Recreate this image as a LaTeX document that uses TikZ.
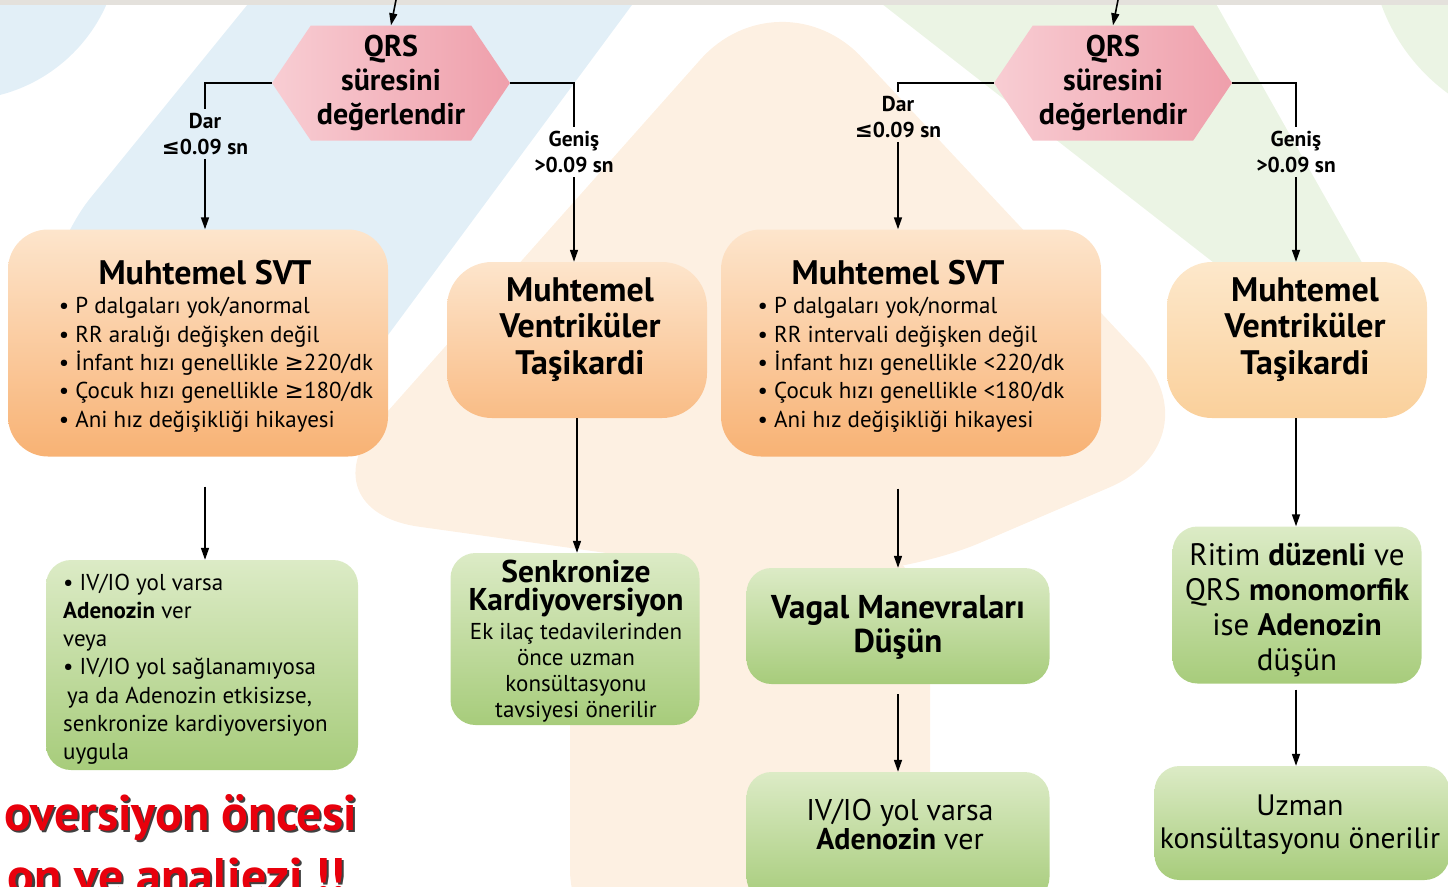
\documentclass[tikz,border=0pt]{standalone}
\usepackage{fontspec}
\setmainfont{PT Sans}
\newfontfamily\symf{DejaVu Sans}
\usetikzlibrary{positioning,shapes.symbols,arrows.meta}

\definecolor{bgblue}{HTML}{E2EFF7}
\definecolor{bgpeach}{HTML}{FDF0E2}
\definecolor{bggreen}{HTML}{EBF4E4}
\definecolor{bggray}{HTML}{E4E1DC}
\definecolor{qrsL}{HTML}{F8CDD3}
\definecolor{qrsR}{HTML}{EF9FAB}
\definecolor{svtT}{HTML}{FDE5CC}
\definecolor{svtB}{HTML}{F8B274}
\definecolor{vtT}{HTML}{FDE8CB}
\definecolor{vtB}{HTML}{FAD09B}
\definecolor{grT}{HTML}{DCEBC6}
\definecolor{grB}{HTML}{A7CC7B}
\definecolor{warnred}{HTML}{E8000C}

\newcommand\lesign{{\symf ≤}}
\newcommand\gesign{{\symf ≥}}
\newcommand\fsqrs{\fontsize{30}{34}\selectfont\bfseries}
\newcommand\fstitle{\fontsize{34}{34}\selectfont\bfseries}
\newcommand\fsbody{\fontsize{23}{28.3}\selectfont}
\newcommand\fslabel{\fontsize{21.5}{26}\selectfont\bfseries}

\tikzset{
  link/.style={line width=1.6pt},
  arr/.style={line width=1.6pt, -{Triangle[length=12pt,width=8pt]}},
  qrsbox/.style={signal, signal to=west and east, signal pointer angle=112,
    minimum width=238pt, minimum height=115pt, inner sep=0pt,
    left color=qrsL, right color=qrsR, align=center, font=\fsqrs},
  svtbox/.style={rounded corners=40pt, minimum width=380pt, minimum height=227pt,
    top color=svtT, bottom color=svtB},
  vtbox/.style={rounded corners=45pt, minimum width=260pt, minimum height=156pt,
    top color=svtT, bottom color=svtB!80!svtT},
  grbox/.style={rounded corners=25pt, top color=grT, bottom color=grB},
  txt/.style={anchor=base, inner sep=0pt},
  lbl/.style={align=center, font=\fslabel, inner sep=4pt},
  warn/.style={anchor=base east, text=warnred, font=\fontsize{50}{50}\selectfont\bfseries, inner sep=0pt}
}

\begin{document}
\begin{tikzpicture}[x=1pt,y=-1pt]
  \useasboundingbox (0,0) rectangle (1448,886);

  % Background bands
  \fill[bgblue] (-40,-60) circle (160pt);
  \fill[bgblue, rounded corners=80pt] (300,-60) -- (680,-60) -- (340,400) -- (40,400) -- (40,260) -- cycle;
  \fill[bgpeach, rounded corners=120pt] (780,-30) -- (1220,440) -- (870,590) -- (300,510) -- cycle;
  \fill[bgpeach, rounded corners=90pt] (570,540) rectangle (930,960);
  \fill[bggreen, rounded corners=60pt] (800,-60) -- (1180,-60) -- (1400,330) -- (1300,330) -- cycle;
  \fill[bggreen] (1560,-60) circle (190pt);
  \fill[bggray] (0,0) rectangle (1448,5);

  % Left branch
  \coordinate (inA) at (396,0);
  \node[qrsbox] (qrsA) at (391,83) {QRS\\süresini\\değerlendir};
  \node[lbl] (darA) at (205,134) {Dar\\\lesign0.09 sn};
  \node[lbl] (genA) at (574,152) {Geniş\\>0.09 sn};
  \node[svtbox] (svtA) at (198,343) {};
  \node[txt, font=\fsbody] (svtAt) at (216,284) {\begin{tabular}[t]{@{}l@{}}
      \multicolumn{1}{@{}c@{}}{\fstitle Muhtemel SVT\hspace*{22pt}}\\[1.5pt]
      • P dalgaları yok/anormal\\
      • RR aralığı değişken değil\\
      • İnfant hızı genellikle \gesign220/dk\\
      • Çocuk hızı genellikle \gesign180/dk\\
      • Ani hız değişikliği hikayesi
    \end{tabular}};
  \node[vtbox] (vtA) at (577,340) {};
  \node[txt, font=\fontsize{34}{36.5}\selectfont\bfseries] (vtAt) at (580,301)
    {\begin{tabular}[t]{@{}c@{}}Muhtemel\\Ventriküler\\Taşikardi\end{tabular}};
  \node[grbox, minimum width=312pt, minimum height=210pt] (advA) at (202,665) {};
  \node[txt, anchor=base west, font=\fsbody] (advAt) at (63,590) {\begin{tabular}[t]{@{}l@{}}
      • IV/IO yol varsa\\
      \textbf{Adenozin} ver\\
      veya\\
      • IV/IO yol sağlanamıyosa\\
      \hspace*{4pt}ya da Adenozin etkisizse,\\
      senkronize kardiyoversiyon\\
      uygula
    \end{tabular}};
  \node[grbox, minimum width=249pt, minimum height=172pt] (kvA) at (575,639) {};
  \node[txt, font=\fontsize{23}{26}\selectfont] (kvAt) at (576,582) {\begin{tabular}[t]{@{}c@{}}
      {\fontsize{31.5}{29}\selectfont\bfseries Senkronize}\\[-2pt]
      {\fontsize{31.5}{29}\selectfont\bfseries Kardiyoversiyon}\\[3pt]
      Ek ilaç tedavilerinden\\önce uzman\\konsültasyonu\\tavsiyesi önerilir
    \end{tabular}};

  \draw[arr] (inA) -- (qrsA.north);
  \draw[link] (qrsA.west) -| (darA.north);
  \draw[arr] (darA.south) -- (darA.south |- svtA.north);
  \draw[link] (qrsA.east) -| (genA.north);
  \draw[arr] (genA.south) -- (genA.south |- vtA.north);
  \draw[arr, shorten <=30pt] (darA.south |- svtA.south) -- (darA.south |- advA.north);
  \draw[arr] (vtA.south) -- (vtA.south |- kvA.north);

  % Right branch
  \coordinate (inB) at (1118,0);
  \node[qrsbox] (qrsB) at (1113,83) {QRS\\süresini\\değerlendir};
  \node[lbl] (darB) at (898,117) {Dar\\\lesign0.09 sn};
  \node[lbl] (genB) at (1296,152) {Geniş\\>0.09 sn};
  \node[svtbox] (svtB) at (911,343) {};
  \node[txt, font=\fsbody] (svtBt) at (911,284) {\begin{tabular}[t]{@{}l@{}}
      \multicolumn{1}{@{}c@{}}{\fstitle Muhtemel SVT\hspace*{26pt}}\\[1.5pt]
      • P dalgaları yok/normal\\
      • RR intervali değişken değil\\
      • İnfant hızı genellikle <220/dk\\
      • Çocuk hızı genellikle <180/dk\\
      • Ani hız değişikliği hikayesi
    \end{tabular}};
  \node[vtbox, top color=vtT, bottom color=vtB] (vtB) at (1297,340) {};
  \node[txt, font=\fontsize{34}{36.5}\selectfont\bfseries] (vtBt) at (1305,301)
    {\begin{tabular}[t]{@{}c@{}}Muhtemel\\Ventriküler\\Taşikardi\end{tabular}};
  \node[grbox, minimum width=303pt, minimum height=116pt] (vagB) at (898,626) {};
  \node[txt, font=\fontsize{33}{34}\selectfont\bfseries] (vagBt) at (898,618)
    {\begin{tabular}[t]{@{}c@{}}Vagal Manevraları\\Düşün\end{tabular}};
  \node[grbox, minimum width=303pt, minimum height=130pt] (adnB) at (898,837) {};
  \node[txt, font=\fontsize{30}{28}\selectfont] (adnBt) at (900,820)
    {\begin{tabular}[t]{@{}c@{}}IV/IO yol varsa\\\textbf{Adenozin} ver\end{tabular}};
  \node[grbox, minimum width=249pt, minimum height=157pt] (ritB) at (1297,605) {};
  \node[txt, font=\fontsize{31}{35}\selectfont] (ritBt) at (1297,565)
    {\begin{tabular}[t]{@{}c@{}}Ritim \textbf{düzenli} ve\\QRS \textbf{monomorfik}\\ise \textbf{Adenozin}\\düşün\end{tabular}};
  \node[grbox, minimum width=295pt, minimum height=114pt] (uzmB) at (1302,823) {};
  \node[txt, font=\fontsize{29.5}{33}\selectfont] (uzmBt) at (1300,815)
    {\begin{tabular}[t]{@{}c@{}}Uzman\\konsültasyonu önerilir\end{tabular}};

  \draw[arr] (inB) -- (qrsB.north);
  \draw[link] (qrsB.west) -| (darB.north);
  \draw[arr] (darB.south) -- (darB.south |- svtB.north);
  \draw[link] (qrsB.east) -| (genB.north);
  \draw[arr] (genB.south) -- (genB.south |- vtB.north);
  \draw[arr, shorten <=32pt] (darB.south |- svtB.south) -- (darB.south |- vagB.north);
  \draw[arr, shorten <=10pt] (vagB.south) -- (adnB.north);
  \draw[arr] (genB.south |- vtB.south) -- (genB.south |- ritB.north);
  \draw[arr, shorten <=6pt] (genB.south |- ritB.south) -- (genB.south |- uzmB.north);

  % Warning text, cut by the page edge
  \node[warn, text=black!75] (warnAs) at (359,832) {oversiyon öncesi};
  \node[warn] (warnA) at (357,830) {oversiyon öncesi};
  \node[warn, text=black!75] (warnBs) at (347,895) {on ve analjezi !!};
  \node[warn] (warnB) at (345,893) {on ve analjezi !!};
\end{tikzpicture}
\end{document}
